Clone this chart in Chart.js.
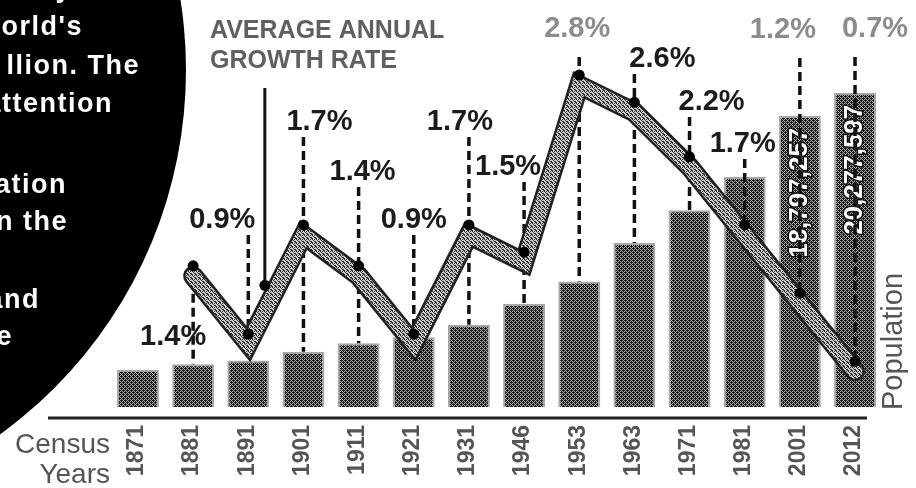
<!DOCTYPE html>
<html>
<head>
<meta charset="utf-8">
<script src="https://cdn.jsdelivr.net/npm/chart.js@4"></script>
<style>
  html, body { margin: 0; padding: 0; background: #fff; }
  canvas { display: block; }
</style>
</head>
<body>
<canvas id="chart" width="916" height="488"></canvas>
<script>
const years = ['1871', '1881', '1891', '1901', '1911', '1921', '1931', '1946', '1953', '1963', '1971', '1981', '2001', '2012'];
const population = [2400380, 2759738, 3007789, 3565954, 4106350, 4498605, 5306871, 6657339, 8097895, 10582064, 12689897, 14846750, 18797257, 20277597];
const growthRate = [null, 1.4, 0.9, 1.7, 1.4, 0.9, 1.7, 1.5, 2.8, 2.6, 2.2, 1.7, 1.2, 0.7];
const labelledBars = [12, 13];

// placement of the growth labels: offset from the bar centre and text baseline
const rateLabelDx = [0, -20, -26, 16, 4, 0, -9, -16, -2, 28, 22, -2, -17, 20];
const rateLabelY = [0, 345, 228, 130, 180, 228, 130, 175, 37, 67, 110, 152, 38, 37];

// the bits of article text showing on the black disc (right end x, baseline y)
const discText = [
  ['y', 72, -3],
  ["world's", 83, 35],
  ['llion. The', 140, 74],
  ['attention', 113, 112],
  ['ation', 67, 193],
  ['n the', 68, 230],
  ['and', 40, 308],
  ['e', 13, 345]
];

const FONT = '"Liberation Sans", Arial, sans-serif';

function halftone(light, dark, cells) {
  const c = document.createElement('canvas');
  c.width = 4;
  c.height = 4;
  const g = c.getContext('2d');
  g.fillStyle = light;
  g.fillRect(0, 0, 4, 4);
  g.fillStyle = dark;
  cells.forEach(([x, y]) => g.fillRect(x, y, 1, 1));
  return g.createPattern(c, 'repeat');
}

const barFill = halftone('#b0b0b0', '#1a1a1a',
  [[0, 0], [2, 0], [1, 1], [3, 1], [0, 2], [2, 2], [1, 3], [3, 3], [1, 0], [3, 2]]);
const ribbonFill = halftone('#d2d2d2', '#2a2a2a',
  [[0, 0], [2, 1], [1, 2], [3, 3], [2, 3], [3, 0], [0, 1]]);

const decor = {
  id: 'decor',
  beforeDatasetDraw(chart, args) {
    if (args.index === 1 || args.index === 2) {
      chart.ctx.save();
      chart.ctx.translate(0, 10);
    }
  },
  afterDatasetDraw(chart, args) {
    const ctx = chart.ctx;
    if (args.index === 1 || args.index === 2) {
      ctx.restore();
      return;
    }
    if (args.index !== 0) return;
    const xs = chart.scales.x, ys = chart.scales.y, rs = chart.scales.y1;

    // numbers written up the two tallest bars
    labelledBars.forEach(i => {
      const x = xs.getPixelForValue(i);
      const top = ys.getPixelForValue(population[i]);
      const txt = population[i].toLocaleString('en-US');
      ctx.save();
      ctx.translate(x, top + 12);
      ctx.rotate(-Math.PI / 2);
      ctx.font = 'bold 26px ' + FONT;
      ctx.textAlign = 'right';
      ctx.textBaseline = 'middle';
      ctx.lineWidth = 3;
      ctx.strokeStyle = '#111';
      ctx.lineJoin = 'round';
      ctx.strokeText(txt, 0, 0);
      ctx.fillStyle = '#fff';
      ctx.fillText(txt, 0, 0);
      ctx.restore();
    });

    // dashed leaders from the labels down to the dots / bars
    ctx.save();
    ctx.strokeStyle = '#111';
    ctx.lineWidth = 3.5;
    ctx.setLineDash([9, 5]);
    growthRate.forEach((r, i) => {
      if (r == null) return;
      const x = xs.getPixelForValue(i);
      const dotY = rs.getPixelForValue(r);
      const barTop = ys.getPixelForValue(population[i]);
      const labY = rateLabelY[i];
      const top = Math.min(labY + (labY < 50 ? 20 : 7), dotY);
      const bottom = Math.max(dotY, barTop);
      ctx.beginPath();
      ctx.moveTo(x, top);
      ctx.lineTo(x, bottom);
      ctx.stroke();
    });
    ctx.restore();
  },
  afterDraw(chart) {
    const ctx = chart.ctx;
    const xs = chart.scales.x, rs = chart.scales.y1;

    // baseline
    ctx.save();
    ctx.strokeStyle = '#222';
    ctx.lineWidth = 3;
    ctx.beginPath();
    ctx.moveTo(48, 418);
    ctx.lineTo(867, 418);
    ctx.stroke();

    // growth labels
    ctx.textAlign = 'center';
    ctx.textBaseline = 'alphabetic';
    ctx.font = 'bold 29px ' + FONT;
    growthRate.forEach((r, i) => {
      if (r == null) return;
      ctx.fillStyle = rateLabelY[i] < 50 ? '#8c8c8c' : '#1c1c1c';
      ctx.fillText(r.toFixed(1) + '%', xs.getPixelForValue(i) + rateLabelDx[i], rateLabelY[i]);
    });

    // key text and its pointer onto the line
    ctx.textAlign = 'left';
    ctx.fillStyle = '#606060';
    ctx.font = 'bold 25px ' + FONT;
    ctx.fillText('AVERAGE ANNUAL', 210, 38);
    ctx.fillText('GROWTH RATE', 210, 68);
    const t = 0.3;
    const px = xs.getPixelForValue(2) + t * (xs.getPixelForValue(3) - xs.getPixelForValue(2));
    const py = rs.getPixelForValue(growthRate[2]) + t * (rs.getPixelForValue(growthRate[3]) - rs.getPixelForValue(growthRate[2])) - 16;
    ctx.strokeStyle = '#111';
    ctx.lineWidth = 3;
    ctx.beginPath();
    ctx.moveTo(px, 88);
    ctx.lineTo(px, py);
    ctx.stroke();
    ctx.fillStyle = '#000';
    ctx.beginPath();
    ctx.arc(px, py, 5.5, 0, Math.PI * 2);
    ctx.fill();

    // census years, written upwards
    ctx.fillStyle = '#555';
    ctx.font = 'bold 23px ' + FONT;
    years.forEach((y, i) => {
      ctx.save();
      ctx.translate(xs.getPixelForValue(i) - 1, 425);
      ctx.rotate(-Math.PI / 2);
      ctx.textAlign = 'right';
      ctx.textBaseline = 'middle';
      ctx.fillText(y, 0, 0);
      ctx.restore();
    });

    ctx.fillStyle = '#555';
    ctx.font = '28px ' + FONT;
    ctx.textAlign = 'right';
    ctx.fillText('Census', 110, 453);
    ctx.fillText('Years', 110, 483);

    ctx.save();
    ctx.translate(894, 410);
    ctx.rotate(-Math.PI / 2);
    ctx.textAlign = 'left';
    ctx.textBaseline = 'middle';
    ctx.font = '29px ' + FONT;
    ctx.fillText('Population', 0, 0);
    ctx.restore();

    // black disc from the article on the left
    ctx.fillStyle = '#000';
    ctx.beginPath();
    ctx.arc(-264, 70, 450, 0, Math.PI * 2);
    ctx.fill();
    ctx.fillStyle = '#fff';
    ctx.font = 'bold 27px ' + FONT;
    ctx.letterSpacing = '1.5px';
    ctx.textAlign = 'right';
    discText.forEach(([txt, x, y]) => ctx.fillText(txt, x, y));
    ctx.restore();
  }
};

new Chart(document.getElementById('chart'), {
  data: {
    labels: years,
    datasets: [
      {
        type: 'bar',
        data: population,
        yAxisID: 'y',
        backgroundColor: barFill,
        borderColor: '#a8a8a8',
        borderWidth: 2,
        barPercentage: 0.76,
        categoryPercentage: 1,
        order: 4
      },
      {
        type: 'line',
        data: growthRate,
        yAxisID: 'y1',
        borderColor: '#222',
        borderWidth: 20,
        borderJoinStyle: 'miter',
        borderCapStyle: 'round',
        pointRadius: 0,
        order: 3
      },
      {
        type: 'line',
        data: growthRate,
        yAxisID: 'y1',
        borderColor: ribbonFill,
        borderWidth: 15,
        borderJoinStyle: 'miter',
        borderCapStyle: 'round',
        pointRadius: 0,
        order: 2
      },
      {
        type: 'line',
        data: growthRate,
        yAxisID: 'y1',
        showLine: false,
        pointRadius: 5.5,
        pointBackgroundColor: '#000',
        pointBorderWidth: 0,
        order: 1
      }
    ]
  },
  options: {
    responsive: false,
    animation: false,
    layout: { padding: { left: 110.4, right: 33.4, top: 40, bottom: 81 } },
    plugins: {
      legend: { display: false },
      tooltip: { enabled: false }
    },
    scales: {
      x: { display: false },
      y: { display: false, min: 0, max: 23680000 },
      y1: { display: false, min: 0.3646, max: 3.057 }
    }
  },
  plugins: [decor]
});
</script>
</body>
</html>
